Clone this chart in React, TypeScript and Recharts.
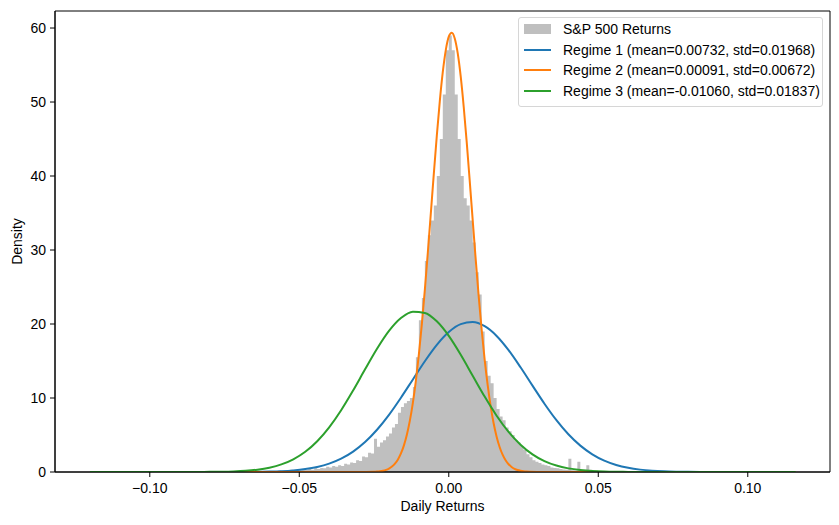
import { ComposedChart, Area, Line, XAxis, YAxis, Label, ReferenceArea } from 'recharts';

document.body.style.margin = '0';

// histogram of daily returns, bin width 0.001 starting at -0.120 (density)
const binStart = -0.12;
const binWidth = 0.001;
const histHeights = [
  0.15, 0, 0, 0, 0, 0, 0, 0, 0, 0,
  0, 0, 0, 0, 0, 0, 0, 0, 0, 0,
  0, 0, 0, 0, 0.15, 0, 0, 0, 0, 0,
  0.15, 0.1, 0, 0, 0, 0, 0, 0, 0, 0,
  0, 0, 0, 0.15, 0, 0, 0, 0, 0, 0,
  0.1, 0, 0, 0, 0.1, 0, 0, 0.1, 0, 0.1,
  0.1, 0, 0.15, 0.2, 0.1, 0.2, 0.15, 0.3, 0.2, 0.3,
  0.25, 0.35, 0.3, 0.45, 0.3, 0.5, 0.4, 0.55, 0.5, 0.7,
  0.6, 0.8, 0.7, 0.9, 0.8, 1.1, 1.0, 1.3, 1.2, 1.6,
  1.5, 2.1, 2.0, 2.6, 2.5, 4.5, 3.4, 4.0, 4.3, 4.8,
  5.2, 6.0, 6.5, 8.0, 8.8, 9.3, 9.6, 10.0, 11.5, 15.5,
  20.5, 23.5, 28.5, 32, 34, 36, 40, 45, 51, 57,
  59, 57, 51, 45, 40, 37, 36, 34, 31, 27,
  24, 19, 15, 13, 12, 10, 8.5, 7.5, 7, 6,
  5.5, 5, 4.3, 4, 3.5, 3, 2.4, 2, 1.6, 1.4,
  1.2, 1.0, 0.9, 0.8, 0.6, 0.55, 0.5, 0.4, 0.35, 0.3,
  1.8, 0.25, 0.2, 1.4, 0.2, 0.3, 0.9, 0.3, 0.15, 0.2,
  0.1, 0.15, 0.1, 0.1, 0, 0.15, 0.1, 0, 0.1, 0.1,
  0, 0.1, 0, 0.1, 0, 0, 0, 0, 0.1, 0,
  0, 0, 0.1, 0, 0, 0, 0, 0, 0, 0,
  0.1, 0, 0, 0, 0, 0, 0, 0.1, 0, 0,
  0, 0, 0, 0.1, 0, 0, 0, 0, 0, 0,
  0.1, 0, 0, 0, 0, 0, 0, 0, 0, 0.1,
  0, 0, 0, 0, 0, 0.15,
];

// fitted regime densities read along the x axis
const wideX = [
  -0.12, -0.116, -0.112, -0.108, -0.104, -0.1, -0.096, -0.092, -0.088, -0.084,
  -0.08, -0.076, -0.072, -0.068, -0.064, -0.06, -0.056, -0.052, -0.048, -0.044,
  -0.04, -0.036, -0.032, -0.028, -0.024, -0.02, -0.016, -0.012, -0.008, -0.004,
  0, 0.004, 0.008, 0.012, 0.016, 0.02, 0.024, 0.028, 0.032, 0.036,
  0.04, 0.044, 0.048, 0.052, 0.056, 0.06, 0.064, 0.068, 0.072, 0.076,
  0.08, 0.084, 0.088, 0.092, 0.096, 0.1, 0.104, 0.108, 0.112, 0.116,
];
const regime1 = [
  0, 0, 0, 0, 0, 0, 0, 0.0001, 0.0002, 0.0004,
  0.001, 0.003, 0.006, 0.013, 0.029, 0.058, 0.114, 0.215, 0.39, 0.676,
  1.125, 1.796, 2.755, 4.048, 5.71, 7.725, 10.04, 12.51, 14.97, 17.18,
  18.91, 19.98, 20.26, 19.7, 18.39, 16.47, 14.15, 11.67, 9.23, 7.006,
  5.1, 3.565, 2.392, 1.539, 0.949, 0.563, 0.32, 0.174, 0.091, 0.046,
  0.022, 0.01, 0.005, 0.002, 0.001, 0.0004, 0, 0, 0, 0,
];
const regime3 = [
  0, 0, 0, 0, 0.0001, 0.0002, 0.0004, 0.001, 0.003, 0.007,
  0.017, 0.038, 0.081, 0.164, 0.317, 0.584, 1.023, 1.713, 2.732, 4.16,
  6.04, 8.35, 11.02, 13.87, 16.65, 19.06, 20.8, 21.66, 21.5, 20.36,
  18.39, 15.84, 13.01, 10.19, 7.61, 5.42, 3.69, 2.39, 1.475, 0.87,
  0.489, 0.262, 0.134, 0.065, 0.03, 0.013, 0.006, 0.002, 0.001, 0.0003,
  0, 0, 0, 0, 0, 0, 0, 0, 0, 0,
];
const narrowX = [
  -0.12, -0.03, -0.025, -0.024, -0.023, -0.022, -0.021, -0.02, -0.019, -0.018,
  -0.017, -0.016, -0.015, -0.014, -0.013, -0.012, -0.011, -0.01, -0.009, -0.008,
  -0.007, -0.006, -0.005, -0.004, -0.003, -0.002, -0.001, 0, 0.001, 0.002,
  0.003, 0.004, 0.005, 0.006, 0.007, 0.008, 0.009, 0.01, 0.011, 0.012,
  0.013, 0.014, 0.015, 0.016, 0.017, 0.018, 0.019, 0.02, 0.021, 0.022,
  0.023, 0.024, 0.025, 0.026, 0.027, 0.032, 0.116,
];
const regime2 = [
  0, 0.004, 0.035, 0.062, 0.106, 0.178, 0.292, 0.469, 0.737, 1.133,
  1.703, 2.506, 3.6, 5.065, 6.97, 9.38, 12.35, 15.89, 20.01, 24.65,
  29.7, 34.99, 40.32, 45.46, 50.13, 54.06, 57.02, 58.83, 59.36, 58.59,
  56.57, 53.42, 49.33, 44.57, 39.37, 34.03, 28.76, 23.77, 19.22, 15.19,
  11.77, 8.91, 6.58, 4.77, 3.38, 2.34, 1.584, 1.049, 0.68, 0.431,
  0.267, 0.162, 0.096, 0.056, 0.032, 0.003, 0,
];

const xTicks = [-0.1, -0.05, 0, 0.05, 0.1];
const yTicks = [0, 10, 20, 30, 40, 50, 60];
const xDomain = [-0.1317, 0.1275];
const yDomain = [0, 62.3];

const legendItems = [
  { label: 'S&P 500 Returns', color: '#bfbfbf', patch: true },
  { label: 'Regime 1 (mean=0.00732, std=0.01968)', color: '#1f77b4' },
  { label: 'Regime 2 (mean=0.00091, std=0.00672)', color: '#ff7f0e' },
  { label: 'Regime 3 (mean=-0.01060, std=0.01837)', color: '#2ca02c' },
];

const histData = histHeights.map((h, i) => ({ x: +(binStart + i * binWidth).toFixed(3), y: h }));
histData.push({ x: 0.116, y: 0 });
const r1Data = wideX.map((x, i) => ({ x, y: regime1[i] }));
const r3Data = wideX.map((x, i) => ({ x, y: regime3[i] }));
const r2Data = narrowX.map((x, i) => ({ x, y: regime2[i] }));

const font = '"Liberation Sans", Arial, sans-serif';
const fmt = (v: number) => v.toFixed(2).replace('-', '\u2212');

export default function App() {
  return (
    <div style={{ position: 'relative', width: 839, height: 525, fontFamily: font, background: '#fff' }}>
      <ComposedChart width={839} height={525} margin={{ top: 11, right: 9, bottom: 13, left: 10 }}>
        <XAxis
          dataKey="x"
          type="number"
          domain={xDomain}
          ticks={xTicks}
          tickFormatter={fmt}
          allowDataOverflow
          height={40}
          tickSize={5}
          tickMargin={6}
          stroke="#000"
          tick={{ fill: '#000', fontSize: 14, fontFamily: font }}
        >
          <Label value="Daily Returns" position="insideBottom" offset={1} fill="#000" fontSize={14} fontFamily={font} />
        </XAxis>
        <YAxis
          type="number"
          domain={yDomain}
          ticks={yTicks}
          allowDataOverflow
          width={45}
          tickSize={5}
          tickMargin={4}
          stroke="#000"
          tick={{ fill: '#000', fontSize: 14, fontFamily: font }}
        >
          <Label value="Density" angle={-90} position="insideLeft" offset={7} fill="#000" fontSize={14} fontFamily={font} style={{ textAnchor: 'middle' }} />
        </YAxis>
        <Area data={histData} dataKey="y" type="stepAfter" stroke="none" fill="#bfbfbf" fillOpacity={1} isAnimationActive={false} baseValue={0} />
        <Line data={r1Data} dataKey="y" type="monotone" stroke="#1f77b4" strokeWidth={2} dot={false} isAnimationActive={false} />
        <Line data={r2Data} dataKey="y" type="monotone" stroke="#ff7f0e" strokeWidth={2} dot={false} isAnimationActive={false} />
        <Line data={r3Data} dataKey="y" type="monotone" stroke="#2ca02c" strokeWidth={2} dot={false} isAnimationActive={false} />
        <ReferenceArea x1={xDomain[0]} x2={xDomain[1]} y1={yDomain[0]} y2={yDomain[1]} fill="none" stroke="#000" strokeWidth={1} ifOverflow="extendDomain" />
      </ComposedChart>
      <div
        style={{
          position: 'absolute',
          left: 518,
          top: 17,
          width: 303,
          height: 87,
          border: '1px solid #d6d6d6',
          borderRadius: 3,
          background: 'rgba(255,255,255,0.8)',
          paddingTop: 1,
          boxSizing: 'content-box',
        }}
      >
        {legendItems.map((item) => (
          <div key={item.label} style={{ display: 'flex', alignItems: 'center', height: 20.6, fontSize: 14, color: '#000', whiteSpace: 'nowrap' }}>
            <div
              style={{
                marginLeft: 5,
                width: 27,
                height: item.patch ? 10 : 2,
                background: item.color,
                marginRight: 12,
              }}
            />
            <span>{item.label}</span>
          </div>
        ))}
      </div>
    </div>
  );
}
